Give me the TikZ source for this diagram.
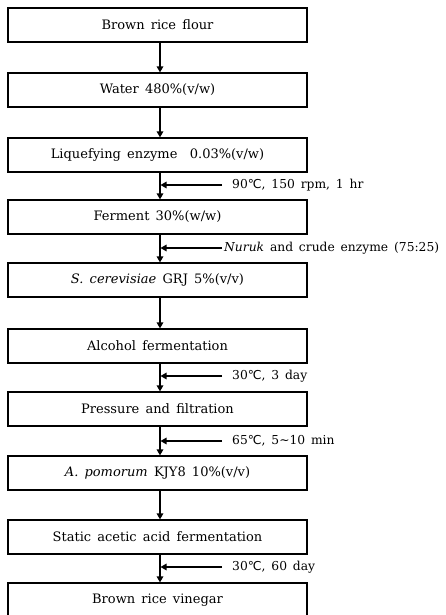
\documentclass[tikz,border=0pt]{standalone}
\usepackage{fontspec}
\setmainfont[WordSpace=1.5]{DejaVu Serif}
\newfontfamily\dvs{DejaVu Sans}
\usetikzlibrary{arrows.meta}
\newcommand{\degC}{{\dvs ℃}}
\tikzset{
  box/.style={draw=black, line width=1.2pt, minimum width=299pt, minimum height=34pt, inner sep=0pt, font=\fontsize{13}{15}\selectfont},
  flow/.style={line width=1.4pt, -{Triangle[length=6pt,width=6.5pt]}},
  lbl/.style={anchor=west, inner sep=0pt, font=\fontsize{12.3}{14}\selectfont}
}
\begin{document}
\begin{tikzpicture}[x=1pt,y=-1pt]
\useasboundingbox[fill=white] (0,0) rectangle (446,615);
\node[box] (b1) at (157.5,25) {Brown rice flour};
\node[box] (b2) at (157.5,90) {Water 480\%(v/w)};
\node[box] (b3) at (157.5,155) {Liquefying enzyme\ \ 0.03\%(v/w)};
\node[box] (b4) at (157.5,217) {Ferment 30\%(w/w)};
\node[box] (b5) at (157.5,280) {\textit{S. cerevisiae} GRJ 5\%(v/v)};
\node[box] (b6) at (157.5,346) {Alcohol fermentation};
\node[box] (b7) at (157.5,409) {Pressure and filtration};
\node[box] (b8) at (157.5,473) {\textit{A. pomorum} KJY8 10\%(v/v)};
\node[box] (b9) at (157.5,537) {Static acetic acid fermentation};
\node[box] (b10) at (157.5,600) {Brown rice vinegar};
\foreach \a/\b in {b1/b2,b2/b3,b3/b4,b4/b5,b5/b6,b6/b7,b7/b8,b8/b9,b9/b10}
  \draw[flow] ([xshift=2.5pt]\a.south) -- ([xshift=2.5pt]\b.north);
% side inputs
\coordinate (s1) at (222,185);
\coordinate (s2) at (222,248);
\coordinate (s3) at (222,376);
\coordinate (s4) at (222,441);
\coordinate (s5) at (222,567);
\foreach \s in {s1,s2,s3,s4,s5}
  \draw[flow] (\s) -- (\s -| 160.5,0);
\node[lbl] (t1) at (232,185) {90\degC, 150 rpm, 1 hr};
\node[lbl] (t2) at (224,248) {\textit{Nuruk} and crude enzyme (75:25)};
\node[lbl] (t3) at (232,376) {30\degC, 3 day};
\node[lbl] (t4) at (232,441) {65\degC, 5\textasciitilde10 min};
\node[lbl] (t5) at (232,567) {30\degC, 60 day};
\end{tikzpicture}
\end{document}
